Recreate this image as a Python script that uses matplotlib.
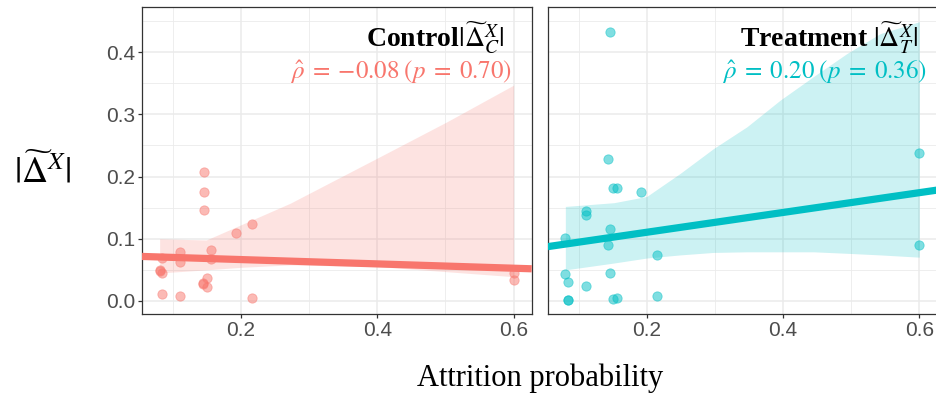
"""Attrition probability vs |Delta~X| for control and treatment, with lm fits."""
import numpy as np
import matplotlib

matplotlib.use("Agg")
import matplotlib.pyplot as plt
from matplotlib.ticker import MultipleLocator, FormatStrFormatter

RED = "#F8766D"
CYAN = "#00BFC4"
GRID = "#EBEBEB"
DARK = "#333333"
TICK = "#4D4D4D"

# attrition probability per study (same studies in both arms)
attrition = [0.0806, 0.0806, 0.0845, 0.0845, 0.0845, 0.1105, 0.1105, 0.1105,
             0.1435, 0.1435, 0.1457, 0.1457, 0.1457, 0.150, 0.150, 0.156, 0.156,
             0.192, 0.2155, 0.2155, 0.600, 0.600]
control_delta = [0.0477, 0.049, 0.0686, 0.0445, 0.0108, 0.078, 0.063, 0.0086,
                 0.0284, 0.027, 0.208, 0.175, 0.146, 0.0365, 0.023, 0.082, 0.067,
                 0.110, 0.124, 0.0053, 0.0455, 0.033]
treatment_delta = [0.101, 0.044, 0.030, 0.0016, 0.0016, 0.145, 0.138, 0.0236,
                   0.229, 0.0895, 0.433, 0.115, 0.0455, 0.181, 0.0027, 0.181, 0.004,
                   0.175, 0.0745, 0.008, 0.238, 0.09]

# confidence band (bootstrapped, so not symmetric)
control_band_x = [0.0806, 0.149, 0.199, 0.272, 0.404, 0.502, 0.600]
control_band_lo = [0.045, 0.050, 0.054, 0.058, 0.055, 0.047, 0.039]
control_band_hi = [0.100, 0.098, 0.122, 0.157, 0.232, 0.288, 0.347]
treatment_band_x = [0.0806, 0.152, 0.200, 0.249, 0.298, 0.347, 0.396, 0.445,
                    0.494, 0.543, 0.600]
treatment_band_lo = [0.050, 0.061, 0.069, 0.074, 0.078, 0.079, 0.079, 0.079,
                     0.0766, 0.074, 0.0704]
treatment_band_hi = [0.152, 0.158, 0.168, 0.205, 0.245, 0.280, 0.323, 0.361,
                     0.398, 0.430, 0.449]

panels = [
    ("Control$|\\widetilde{\\Delta}_C^X|$", "$\\hat{\\rho}\\;=\\;{-}0.08\\;(p\\;=\\;0.70)$",
     control_delta, (control_band_x, control_band_lo, control_band_hi), RED, 0.929, 0.950),
    ("Treatment $|\\widetilde{\\Delta}_T^X|$", "$\\hat{\\rho}\\;=\\;0.20\\;(p\\;=\\;0.36)$",
     treatment_delta, (treatment_band_x, treatment_band_lo, treatment_band_hi), CYAN, 0.950, 0.973),
]

plt.rcParams["mathtext.fontset"] = "stix"
plt.rcParams["font.family"] = "Liberation Sans"

fig = plt.figure(figsize=(9.37, 3.98), dpi=100)
W, H = 937, 398
axes = [
    fig.add_axes([142 / W, 1 - 314 / H, 389.7 / W, 307 / H]),
    fig.add_axes([547.7 / W, 1 - 314 / H, 389.7 / W, 307 / H]),
]

x = np.array(attrition)
for i, (ax, (title, rho, ys, band, col, tx, rx)) in enumerate(zip(axes, panels)):
    y = np.array(ys)
    ax.set_xlim(0.0547, 0.6266)
    ax.set_ylim(-0.021, 0.4727)

    bx, blo, bhi = band
    ax.fill_between(bx, blo, bhi, color=col, alpha=0.2, linewidth=0, zorder=2)

    # lm fit, drawn across the whole panel
    b, a = np.polyfit(x, y, 1)
    xl = np.array(ax.get_xlim())
    ax.plot(xl, a + b * xl, color=col, linewidth=5.2, solid_capstyle="butt", zorder=4)
    ax.scatter(x, y, s=45, color=col, alpha=0.5, edgecolors=col, linewidths=0.6, zorder=3)

    ax.xaxis.set_major_locator(MultipleLocator(0.2))
    ax.xaxis.set_minor_locator(MultipleLocator(0.1))
    ax.yaxis.set_major_locator(MultipleLocator(0.1))
    ax.yaxis.set_minor_locator(MultipleLocator(0.05))
    ax.grid(which="major", color=GRID, linewidth=1.1, zorder=0)
    ax.grid(which="minor", color=GRID, linewidth=0.6, zorder=0)
    ax.set_axisbelow(True)
    for sp in ax.spines.values():
        sp.set_color(DARK)
        sp.set_linewidth(0.9)
    ax.tick_params(which="both", color=DARK, width=0.9, length=2.75,
                   labelcolor=TICK, labelsize=15, pad=2)
    ax.tick_params(which="minor", length=0)
    ax.xaxis.set_major_formatter(FormatStrFormatter("%.1f"))
    ax.yaxis.set_major_formatter(FormatStrFormatter("%.1f"))
    if i == 1:
        ax.tick_params(axis="y", which="both", left=False, labelleft=False)

    ax.text(tx, 0.899, title, transform=ax.transAxes, ha="right", va="center",
            fontsize=20, fontweight="bold", family="Liberation Serif", color="black")
    ax.text(rx, 0.788, rho, transform=ax.transAxes, ha="right", va="center",
            fontsize=18, color=col)

fig.text(540 / W, 1 - 378 / H, "Attrition probability", ha="center", va="center",
         fontsize=22, family="Liberation Serif", color="black")
fig.text(43 / W, 1 - 172 / H, "$|\\widetilde{\\Delta}^X|$", ha="center", va="center",
         fontsize=26, color="black")

fig.savefig("out.png", dpi=100, facecolor="white")
